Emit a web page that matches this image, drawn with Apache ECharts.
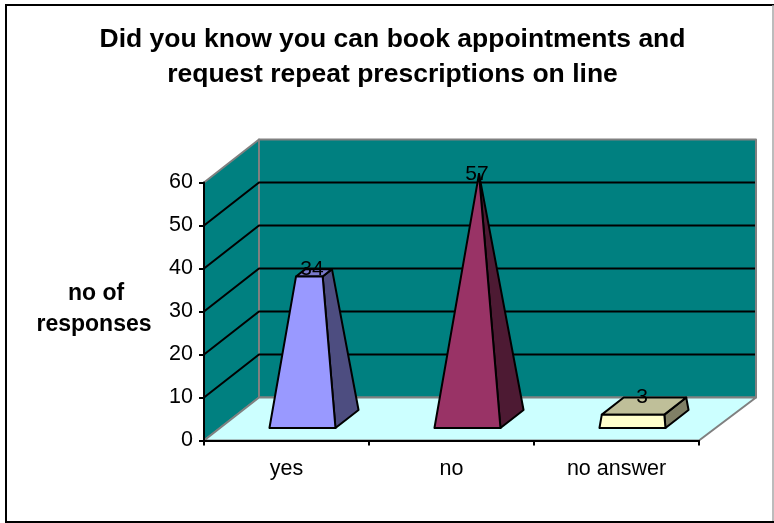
<!DOCTYPE html>
<html>
<head>
<meta charset="utf-8">
<style>html,body{margin:0;padding:0;background:#fff}#main{width:774px;height:523px}</style>
<script src="https://cdn.jsdelivr.net/npm/echarts@6/dist/echarts.min.js"></script>
</head>
<body>
<div id="main"></div>
<script>
var titleLines = ["Did you know you can book appointments and", "request repeat prescriptions on line"];
var axisTitle = ["no of", "responses"];
var categories = ["yes", "no", "no answer"];
var values = [34, 57, 3];
var yTicks = [0, 10, 20, 30, 40, 50, 60];

var frontColors = ["#9999FF", "#993366", "#FFFFCC"];
var sideColors = ["#4D4D80", "#4D1A33", "#808066"];
var topColors = ["#7A7ACC", "#7A2952", "#BFBF99"];

// 3d look: how far the back wall sits from the axis plane, in px
var DEPTH_X = 55;
var DEPTH_X_RIGHT = 57;
var DEPTH_Y = 43;
var BAR_DEPTH_FRONT = 0.29;
var BAR_DEPTH_BACK = 0.71;
var BAR_WIDTH = 0.4; // share of the category band
var LINE_W = 2;

var font = '"Liberation Sans", Arial, sans-serif';
var myChart = echarts.init(document.getElementById("main"));

function project(api, cat, off, value, depth) {
  var p = api.coord([cat, value]);
  return [p[0] + off * api.size([1, 0])[0] + depth * DEPTH_X, p[1] - depth * DEPTH_Y];
}

function poly(points, fill, stroke, lw) {
  return {
    type: "polygon",
    shape: { points: points },
    style: { fill: fill, stroke: stroke, lineWidth: lw, lineJoin: "round" },
  };
}

// walls and floor, drawn once from the axis range
function renderWalls(params, api) {
  var n = categories.length;
  var lo = yTicks[0];
  var hi = yTicks[yTicks.length - 1];
  var a = api.coord([0, lo]);
  var left = a[0] - api.size([1, 0])[0] / 2;
  var right = left + api.size([1, 0])[0] * n;
  var bottom = a[1];
  var top = api.coord([0, hi])[1];
  var backL = left + DEPTH_X;
  var backR = right + DEPTH_X_RIGHT;
  var kids = [
    poly([[left, top], [backL, top - DEPTH_Y], [backL, bottom - DEPTH_Y], [left, bottom]], "#008080", "#808080", 2),
    poly([[backL, top - DEPTH_Y], [backR, top - DEPTH_Y], [backR, bottom - DEPTH_Y], [backL, bottom - DEPTH_Y]], "#008080", "#808080", 2),
    poly([[left, bottom], [backL, bottom - DEPTH_Y], [backR, bottom - DEPTH_Y], [right, bottom]], "#CCFFFF", "#808080", 2),
  ];
  yTicks.slice(1, -1).forEach(function (t) {
    var y = api.coord([0, t])[1];
    kids.push({
      type: "polyline",
      shape: { points: [[left, y], [backL, y - DEPTH_Y], [backR - 1, y - DEPTH_Y]] },
      style: { fill: null, stroke: "#000", lineWidth: LINE_W },
    });
  });
  return { type: "group", children: kids };
}

function renderPyramid(params, api) {
  var i = api.value(0);
  var v = api.value(1);
  var peak = Math.max.apply(null, values);
  var t = v / peak;
  var hw = BAR_WIDTH / 2;
  var dMid = (BAR_DEPTH_FRONT + BAR_DEPTH_BACK) / 2;
  var apex = project(api, i, 0, peak, dMid);
  function lerp(p) {
    return [p[0] + (apex[0] - p[0]) * t, p[1] + (apex[1] - p[1]) * t];
  }
  var fl = project(api, i, -hw, 0, BAR_DEPTH_FRONT);
  var fr = project(api, i, hw, 0, BAR_DEPTH_FRONT);
  var br = project(api, i, hw, 0, BAR_DEPTH_BACK);
  var bl = project(api, i, -hw, 0, BAR_DEPTH_BACK);
  var tfl = lerp(fl), tfr = lerp(fr), tbr = lerp(br), tbl = lerp(bl);
  var tip = project(api, i, 0, v, dMid);
  return {
    type: "group",
    children: [
      poly([fr, br, tbr, tfr], sideColors[i], "#000", LINE_W),
      poly([tfl, tfr, tbr, tbl], topColors[i], "#000", LINE_W),
      poly([fl, fr, tfr, tfl], frontColors[i], "#000", LINE_W),
      {
        type: "text",
        style: {
          x: tip[0] - 2,
          y: tbr[1],
          text: String(v),
          fill: "#000",
          font: "21px " + font,
          align: "center",
          verticalAlign: "middle",
        },
      },
    ],
  };
}

var option = {
  backgroundColor: "#fff",
  animation: false,
  graphic: [
    {
      type: "rect",
      silent: true,
      shape: { x: 6, y: 5, width: 790, height: 517 },
      style: { fill: "#fff", stroke: "#000", lineWidth: 2 },
      z: -10,
    },
    {
      type: "line",
      silent: true,
      shape: { x1: 773, y1: 5, x2: 773, y2: 521 },
      style: { stroke: "#A6A6A6", lineWidth: 1.5 },
      z: -9,
    },
    {
      type: "text",
      style: { x: 392.5, y: 40, text: titleLines[0], font: "bold 26.5px " + font, fill: "#000", align: "center", verticalAlign: "middle" },
    },
    {
      type: "text",
      style: { x: 392.5, y: 75, text: titleLines[1], font: "bold 26.5px " + font, fill: "#000", align: "center", verticalAlign: "middle" },
    },
    {
      type: "text",
      style: { x: 96, y: 294, text: axisTitle[0], font: "bold 23px " + font, fill: "#000", align: "center", verticalAlign: "middle" },
    },
    {
      type: "text",
      style: { x: 94, y: 325, text: axisTitle[1], font: "bold 23px " + font, fill: "#000", align: "center", verticalAlign: "middle" },
    },
  ],
  grid: { left: 204, top: 182.5, width: 495, height: 258 },
  xAxis: {
    type: "category",
    data: categories,
    z: 5,
    axisLine: { lineStyle: { color: "#000", width: LINE_W } },
    axisTick: { show: true, alignWithLabel: false, length: 5, lineStyle: { color: "#000", width: LINE_W } },
    axisLabel: { color: "#000", fontSize: 21.5, fontFamily: font, margin: 18 },
    splitLine: { show: false },
  },
  yAxis: {
    type: "value",
    min: 0,
    max: 60,
    interval: 10,
    z: 5,
    axisLine: { show: true, lineStyle: { color: "#000", width: LINE_W } },
    axisTick: { show: true, length: 5, lineStyle: { color: "#000", width: LINE_W } },
    axisLabel: { color: "#000", fontSize: 21.5, fontFamily: font, margin: 11 },
    splitLine: { show: false },
  },
  series: [
    { type: "custom", clip: false, z: 1, silent: true, coordinateSystem: "cartesian2d", data: [[0, 0]], renderItem: renderWalls },
    {
      type: "custom",
      clip: false,
      z: 2,
      coordinateSystem: "cartesian2d",
      encode: { x: 0, y: 1 },
      data: values.map(function (v, i) { return [i, v]; }),
      renderItem: renderPyramid,
    },
  ],
};
myChart.setOption(option);
</script>
</body>
</html>
